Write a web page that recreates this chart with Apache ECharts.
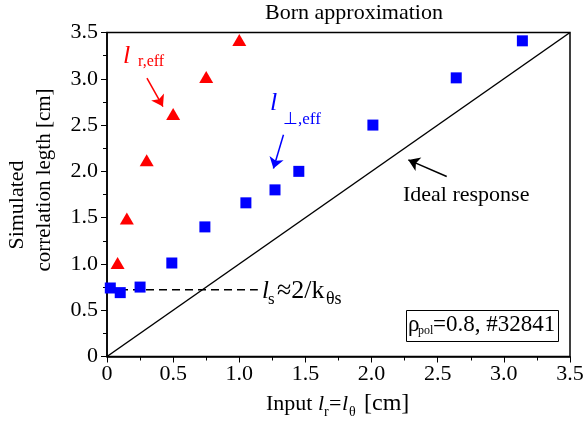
<!DOCTYPE html>
<html>
<head>
<meta charset="utf-8">
<script src="https://cdn.jsdelivr.net/npm/echarts@6/dist/echarts.min.js"></script>
<style>
html,body{margin:0;padding:0;background:#fff;}
#c{width:587px;height:430px;}
</style>
</head>
<body>
<div id="c"></div>
<script>
// ---- data ----
const perpX = [0.025, 0.10, 0.25, 0.49, 0.74, 1.05, 1.27, 1.45, 2.01, 2.64, 3.14];
const perpY = [0.74, 0.69, 0.75, 1.01, 1.40, 1.66, 1.80, 2.00, 2.50, 3.01, 3.41];
const radX = [0.08, 0.15, 0.30, 0.50, 0.75, 1.00];
const radY = [1.01, 1.49, 2.12, 2.62, 3.02, 3.42];
const idealX = [0, 3.5];
const idealY = [0, 3.5];
const lsX = [0, 1.14];
const lsY = [0.72, 0.72];
const axisMin = 0, axisMax = 3.5, axisStep = 0.5;
// annotation arrows (data coords): [x1,y1,x2,y2]
const arrowRad = [0.302, 3.008, 0.423, 2.70];
const arrowPerp = [1.334, 2.395, 1.258, 2.03];
const arrowIdeal = [2.568, 1.944, 2.278, 2.124];

const FONT = '"Liberation Serif", "Times New Roman", serif';
const zip = (a, b) => a.map((v, i) => [v, b[i]]);

const chart = echarts.init(document.getElementById('c'), null, {renderer: 'canvas'});

function T(x, base, s, size, color, italic, align) {
  return {
    type: 'text', x: x, y: base - 0.34 * size, z: 100,
    style: {
      text: s, fill: color || '#000',
      font: (italic ? 'italic ' : '') + size + 'px ' + FONT,
      textAlign: align || 'left', textVerticalAlign: 'middle', verticalAlign: 'middle'
    }
  };
}
function R(x, y, s, size) {
  return {
    type: 'text', x: x, y: y, rotation: Math.PI / 2, z: 100,
    style: {
      text: s, fill: '#000', font: size + 'px ' + FONT,
      textAlign: 'center', textVerticalAlign: 'middle', verticalAlign: 'middle'
    }
  };
}
function arrowSeries(a, color) {
  return {
    type: 'lines', coordinateSystem: 'cartesian2d', z: 5,
    symbol: ['none', 'arrow'], symbolSize: 11,
    lineStyle: {color: color, width: 1.5, opacity: 1},
    data: [{coords: [[a[0], a[1]], [a[2], a[3]]]}]
  };
}
const fmt = v => (v === 0 ? '0' : v.toFixed(1));

const axisCommon = {
  type: 'value', min: axisMin, max: axisMax, interval: axisStep,
  axisLine: {show: true, onZero: false, lineStyle: {color: '#000', width: 1.5}},
  axisTick: {show: true, inside: false, length: 6, lineStyle: {color: '#000', width: 1}},
  minorTick: {show: true, splitNumber: 2, length: 4, lineStyle: {color: '#000', width: 1}},
  splitLine: {show: false},
  axisLabel: {color: '#000', fontFamily: FONT, fontSize: 22, formatter: fmt}
};

const option = {
  animation: false,
  backgroundColor: '#fff',
  grid: {left: 107, right: 17, top: 32.5, bottom: 73.5, show: true, borderColor: '#000', borderWidth: 1.5, backgroundColor: 'transparent'},
  xAxis: Object.assign({}, axisCommon, {axisLabel: Object.assign({}, axisCommon.axisLabel, {margin: 7})}),
  yAxis: Object.assign({}, axisCommon, {axisLabel: Object.assign({}, axisCommon.axisLabel, {margin: 9})}),
  series: [
    {type: 'line', data: zip(idealX, idealY), symbol: 'none', lineStyle: {color: '#000', width: 1.5}, z: 3},
    {type: 'line', data: zip(lsX, lsY), symbol: 'none', lineStyle: {color: '#000', width: 1.5, type: [8, 5]}, z: 3},
    {type: 'scatter', data: zip(perpX, perpY), symbol: 'rect', symbolSize: 11, itemStyle: {color: '#0000FF', opacity: 1}, z: 10},
    {type: 'scatter', data: zip(radX, radY), symbol: 'triangle', symbolSize: [14, 12], itemStyle: {color: '#FF0000', opacity: 1}, z: 10},
    arrowSeries(arrowRad, '#FF0000'),
    arrowSeries(arrowPerp, '#0000FF'),
    arrowSeries(arrowIdeal, '#000')
  ],
  graphic: [
    T(354, 21, 'Born approximation', 22, '#000', false, 'center'),
    // l_r,eff
    T(123, 65, 'l', 26, '#FF0000', true),
    T(138, 67, 'r,eff', 16, '#FF0000', false),
    // l_perp,eff
    T(270, 112, 'l', 26, '#0000FF', true),
    T(283, 125, '\u22A5,eff', 17, '#0000FF', false),
    // Ideal response
    T(403, 203, 'Ideal response', 22, '#000', false),
    // l_s ≈ 2/k_θs
    T(262, 300, 'l', 25, '#000', true),
    T(268, 305, 's', 17, '#000', false),
    T(277, 300, '\u22482/k', 26, '#000', false),
    T(326, 305, '\u03B8s', 18, '#000', false),
    // box
    {type: 'rect', shape: {x: 406.5, y: 310.5, width: 152, height: 31}, style: {fill: '#fff', stroke: '#000', lineWidth: 1}, z: 90},
    T(408, 333, '\u03C1', 23, '#000', false),
    T(418, 335, 'pol', 12, '#000', false),
    T(433, 333, '=0.8, #32841', 23, '#000', false),
    // x axis name
    T(266, 412, 'Input', 22, '#000', false),
    T(318, 412, 'l', 22, '#000', true),
    T(324, 417, 'r', 14, '#000', false),
    T(329, 412, '=', 22, '#000', false),
    T(342, 412, 'l', 22, '#000', true),
    T(349, 417, '\u03B8', 14, '#000', false),
    T(364, 412, '[cm]', 24, '#000', false),
    // y axis name
    R(17, 205, 'Simulated', 22),
    R(44, 180, 'correlation legth [cm]', 21)
  ]
};
chart.setOption(option);
</script>
</body>
</html>
